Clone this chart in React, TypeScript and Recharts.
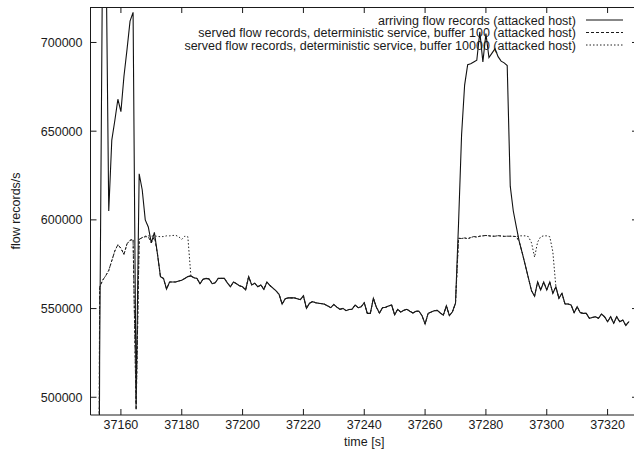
import React from 'react';
import { LineChart, Line, XAxis, YAxis, Legend, Label } from 'recharts';

// one sample per second
const times = [
  37152, 37153, 37154, 37155, 37156, 37157, 37158, 37159, 37160, 37161,
  37162, 37163, 37164, 37165, 37166, 37167, 37168, 37169, 37170, 37171,
  37172, 37173, 37174, 37175, 37176, 37177, 37178, 37179, 37180, 37181,
  37182, 37183, 37184, 37185, 37186, 37187, 37188, 37189, 37190, 37191,
  37192, 37193, 37194, 37195, 37196, 37197, 37198, 37199, 37200, 37201,
  37202, 37203, 37204, 37205, 37206, 37207, 37208, 37209, 37210, 37211,
  37212, 37213, 37214, 37215, 37216, 37217, 37218, 37219, 37220, 37221,
  37222, 37223, 37224, 37225, 37226, 37227, 37228, 37229, 37230, 37231,
  37232, 37233, 37234, 37235, 37236, 37237, 37238, 37239, 37240, 37241,
  37242, 37243, 37244, 37245, 37246, 37247, 37248, 37249, 37250, 37251,
  37252, 37253, 37254, 37255, 37256, 37257, 37258, 37259, 37260, 37261,
  37262, 37263, 37264, 37265, 37266, 37267, 37268, 37269, 37270, 37271,
  37272, 37273, 37274, 37275, 37276, 37277, 37278, 37279, 37280, 37281,
  37282, 37283, 37284, 37285, 37286, 37287, 37288, 37289, 37290, 37291,
  37292, 37293, 37294, 37295, 37296, 37297, 37298, 37299, 37300, 37301,
  37302, 37303, 37304, 37305, 37306, 37307, 37308, 37309, 37310, 37311,
  37312, 37313, 37314, 37315, 37316, 37317, 37318, 37319, 37320, 37321,
  37322, 37323, 37324, 37325, 37326, 37327,
];

const arriving = [
  0, 520000, 760000, 770000, 605000, 645000, 656000, 668000, 661000, 681000,
  696000, 712000, 717000, 496000, 626000, 617000, 600000, 596000, 587000, 593000,
  581000, 568000, 567000, 561000, 565000, 565000, 565000, 565500, 566000, 567000,
  568000, 568400, 567400, 567000, 564000, 566500, 567000, 566700, 564000, 564500,
  567000, 567000, 567000, 564500, 562300, 565000, 564000, 562800, 562300, 560500,
  568000, 563300, 564300, 562300, 563300, 560800, 565000, 563000, 561500, 560000,
  558000, 552500, 555500, 556000, 556000, 556000, 555500, 555000, 557200, 550100,
  553000, 553900, 553300, 553000, 552800, 552400, 551500, 550500, 552300, 550800,
  549600, 550100, 548800, 549500, 549600, 552000, 550500, 551000, 553300, 547300,
  547300, 555800, 550700, 547500, 550500, 550700, 551500, 552000, 546500, 549600,
  548000, 549000, 549600, 548500, 547500, 548500, 548500, 546000, 541300, 547300,
  548000, 548800, 549000, 547500, 546300, 551500, 546000, 548200, 553000, 598000,
  648000, 676000, 687500, 688000, 689000, 690000, 706000, 689000, 705000, 691500,
  694000, 696500, 692000, 689500, 688500, 687000, 619000, 605000, 596000, 587500,
  581000, 574000, 567000, 560000, 557000, 565000, 560500, 565000, 560500, 565000,
  558600, 562300, 555800, 558600, 552600, 552600, 552000, 547700, 551000, 547700,
  547300, 547300, 544500, 545000, 545400, 544500, 546900, 545400, 542600, 545400,
  541700, 545400, 542600, 543500, 540500, 542600,
];

const servedBuf100 = [
  0, 562000, 566000, 568500, 571500, 577000, 582500, 586000, 584000, 580500,
  586500, 588500, 589000, 493000, 589000, 590000, 590500, 590500, 587000, 590500,
  581000, 568000, 567000, 561000, 565000, 565000, 565000, 565500, 566000, 567000,
  568000, 568400, 567400, 567000, 564000, 566500, 567000, 566700, 564000, 564500,
  567000, 567000, 567000, 564500, 562300, 565000, 564000, 562800, 562300, 560500,
  568000, 563300, 564300, 562300, 563300, 560800, 565000, 563000, 561500, 560000,
  558000, 552500, 555500, 556000, 556000, 556000, 555500, 555000, 557200, 550100,
  553000, 553900, 553300, 553000, 552800, 552400, 551500, 550500, 552300, 550800,
  549600, 550100, 548800, 549500, 549600, 552000, 550500, 551000, 553300, 547300,
  547300, 555800, 550700, 547500, 550500, 550700, 551500, 552000, 546500, 549600,
  548000, 549000, 549600, 548500, 547500, 548500, 548500, 546000, 541300, 547300,
  548000, 548800, 549000, 547500, 546300, 551500, 546000, 548200, 553000, 589600,
  589500, 589800, 589400, 590000, 590600, 590300, 590800, 591000, 591200, 591000,
  590800, 590800, 591100, 590900, 590700, 590800, 590800, 590700, 590600, 587500,
  581000, 574000, 567000, 560000, 557000, 565000, 560500, 565000, 560500, 565000,
  558600, 562300, 555800, 558600, 552600, 552600, 552000, 547700, 551000, 547700,
  547300, 547300, 544500, 545000, 545400, 544500, 546900, 545400, 542600, 545400,
  541700, 545400, 542600, 543500, 540500, 542600,
];

const servedBuf10000 = [
  0, 562000, 566000, 568500, 571500, 577000, 582500, 586000, 584000, 580500,
  586500, 588500, 589000, 493000, 589000, 590000, 590800, 591000, 590800, 591000,
  590700, 590500, 590600, 591000, 591000, 591200, 591300, 590500, 589000, 590800,
  590500, 568400, 567400, 567000, 564000, 566500, 567000, 566700, 564000, 564500,
  567000, 567000, 567000, 564500, 562300, 565000, 564000, 562800, 562300, 560500,
  568000, 563300, 564300, 562300, 563300, 560800, 565000, 563000, 561500, 560000,
  558000, 552500, 555500, 556000, 556000, 556000, 555500, 555000, 557200, 550100,
  553000, 553900, 553300, 553000, 552800, 552400, 551500, 550500, 552300, 550800,
  549600, 550100, 548800, 549500, 549600, 552000, 550500, 551000, 553300, 547300,
  547300, 555800, 550700, 547500, 550500, 550700, 551500, 552000, 546500, 549600,
  548000, 549000, 549600, 548500, 547500, 548500, 548500, 546000, 541300, 547300,
  548000, 548800, 549000, 547500, 546300, 551500, 546000, 548200, 553000, 589600,
  589500, 589800, 589400, 590000, 590600, 590300, 590800, 591000, 591200, 591000,
  590800, 590800, 591100, 590900, 590700, 590800, 590800, 590700, 590600, 591000,
  591000, 591000, 590500, 587000, 579000, 587500, 590500, 591000, 591000, 590500,
  582000, 562300, 555800, 558600, 552600, 552600, 552000, 547700, 551000, 547700,
  547300, 547300, 544500, 545000, 545400, 544500, 546900, 545400, 542600, 545400,
  541700, 545400, 542600, 543500, 540500, 542600,
];

const xTicks = [37160, 37180, 37200, 37220, 37240, 37260, 37280, 37300, 37320];
const yTicks = [500000, 550000, 600000, 650000, 700000];
const xDomain = [37150, 37330];
const yDomain = [490000, 720000];
const seriesNames = [
  'arriving flow records (attacked host)',
  'served flow records, deterministic service, buffer 100 (attacked host)',
  'served flow records, deterministic service, buffer 10000 (attacked host)',
];

const FONT = '"Liberation Sans", Arial, Helvetica, sans-serif';
const INK = '#1a1a1a';
const FS = 12.5;
const TICK = 6;

// layout
const CHART_W = 660;
const CHART_H = 459;
const MARGIN = { top: 7, right: 21, bottom: 0, left: 0 };
const LEFT_W = 90.5;
const RIGHT_W = 1;
const PLOT_LEFT = MARGIN.left + LEFT_W;
const PLOT_TOP = MARGIN.top;
const PLOT_W = CHART_W - MARGIN.left - MARGIN.right - LEFT_W - RIGHT_W;

const series = [
  { key: 'arriving', name: seriesNames[0], dash: undefined as string | undefined, color: '#111', width: 1.1 },
  { key: 'buf100', name: seriesNames[1], dash: '3 2', color: '#1a1a1a', width: 1 },
  { key: 'buf10000', name: seriesNames[2], dash: '1.5 2', color: '#222', width: 1 },
];

const data = times.map((t, i) => ({
  t,
  arriving: arriving[i],
  buf100: servedBuf100[i],
  buf10000: servedBuf10000[i],
}));

// gnuplot style: tick marks point into the plot
const BottomTick = (props: any) => {
  const { x, y, payload } = props;
  return (
    <g>
      <line x1={x} x2={x} y1={y} y2={y - TICK} stroke={INK} />
      <text x={x} y={y + 14} textAnchor="middle" fill={INK} fontSize={FS} fontFamily={FONT}>
        {payload.value}
      </text>
    </g>
  );
};

const LeftTick = (props: any) => {
  const { x, y, payload } = props;
  return (
    <g>
      <line x1={x} x2={x + TICK} y1={y} y2={y} stroke={INK} />
      <text x={x - 8} y={y} dy="0.36em" textAnchor="end" fill={INK} fontSize={FS} fontFamily={FONT}>
        {payload.value}
      </text>
    </g>
  );
};

const RightTick = (props: any) => {
  const { x, y } = props;
  return <line x1={x - TICK} x2={x} y1={y} y2={y} stroke={INK} />;
};

const YTitle = (props: any) => {
  const vb = props.viewBox;
  const cx = 15;
  const cy = vb.y + vb.height / 2;
  return (
    <text x={cx} y={cy} dy="0.36em" transform={`rotate(-90 ${cx} ${cy})`} textAnchor="middle"
      fill={INK} fontSize={FS} fontFamily={FONT}>
      flow records/s
    </text>
  );
};

const XTitle = (props: any) => {
  const vb = props.viewBox;
  return (
    <text x={vb.x + vb.width / 2} y={vb.y + 31} textAnchor="middle" fill={INK} fontSize={FS} fontFamily={FONT}>
      time [s]
    </text>
  );
};

// top edge of the frame (a plain CSS border) with mirrored x ticks, laid over the chart
const xToPx = (t: number) => PLOT_LEFT + ((t - xDomain[0]) / (xDomain[1] - xDomain[0])) * PLOT_W;
const TopFrame = () => (
  <>
    <div style={{
      position: 'absolute', left: Math.floor(PLOT_LEFT), top: PLOT_TOP, width: 634 - Math.floor(PLOT_LEFT),
      height: 0, borderTop: `1px solid ${INK}`, zIndex: 5, pointerEvents: 'none',
    }} />
    <svg width={634} height={20}
      style={{ position: 'absolute', left: 0, top: 0, zIndex: 6, pointerEvents: 'none', display: 'block' }}>
      {xTicks.map((t) => (
        <line key={t} x1={xToPx(t)} x2={xToPx(t)} y1={PLOT_TOP} y2={PLOT_TOP + TICK} stroke={INK} />
      ))}
    </svg>
  </>
);

// legend wrapper sits at top 14, left 1 of the chart
const LegendBox = () => (
  <svg width={634} height={44} style={{ display: 'block' }}>
    {series.map((s, i) => {
      const cy = 6 + i * 12.5;
      return (
        <g key={s.key}>
          <text x={575} y={cy} dy="0.36em" textAnchor="end" fill={INK} fontSize={FS} fontFamily={FONT}>
            {s.name}
          </text>
          <line x1={585} x2={622} y1={cy} y2={cy} stroke={s.color} strokeWidth={s.width} strokeDasharray={s.dash} />
        </g>
      );
    })}
  </svg>
);

export default function App() {
  return (
    <div style={{ position: 'fixed', left: 0, top: 0, width: 634, height: 459, overflow: 'hidden', background: '#fff' }}>
      <LineChart width={CHART_W} height={CHART_H} data={data} margin={MARGIN}>
        <XAxis dataKey="t" type="number" domain={xDomain} ticks={xTicks} allowDataOverflow
          height={44} interval={0} tickLine={false} tickSize={0} tickMargin={0} tick={BottomTick}
          axisLine={{ stroke: INK }}>
          <Label content={XTitle} />
        </XAxis>
        <YAxis type="number" domain={yDomain} ticks={yTicks} allowDataOverflow
          width={LEFT_W} interval={0} tickLine={false} tickSize={0} tickMargin={0} tick={LeftTick}
          axisLine={{ stroke: INK }}>
          <Label content={YTitle} />
        </YAxis>
        <YAxis yAxisId="right" orientation="right" type="number" domain={yDomain} ticks={yTicks} allowDataOverflow
          width={RIGHT_W} interval={0} tickLine={false} tickSize={0} tickMargin={0} tick={RightTick}
          axisLine={{ stroke: INK }} />
        <Legend layout="horizontal" verticalAlign="middle" align="center"
          wrapperStyle={{ position: 'absolute', top: 14, left: 1, width: 634, height: 44 }}
          content={() => <LegendBox />} />
        {/* invisible carrier so the mirrored right axis is drawn */}
        <Line yAxisId="right" dataKey="arriving" stroke="none" dot={false} activeDot={false}
          legendType="none" isAnimationActive={false} />
        {series.map((s) => (
          <Line key={s.key} dataKey={s.key} name={s.name} type="linear" stroke={s.color}
            strokeWidth={s.width} strokeDasharray={s.dash} dot={false} activeDot={false}
            isAnimationActive={false} />
        ))}
      </LineChart>
      <TopFrame />
    </div>
  );
}
